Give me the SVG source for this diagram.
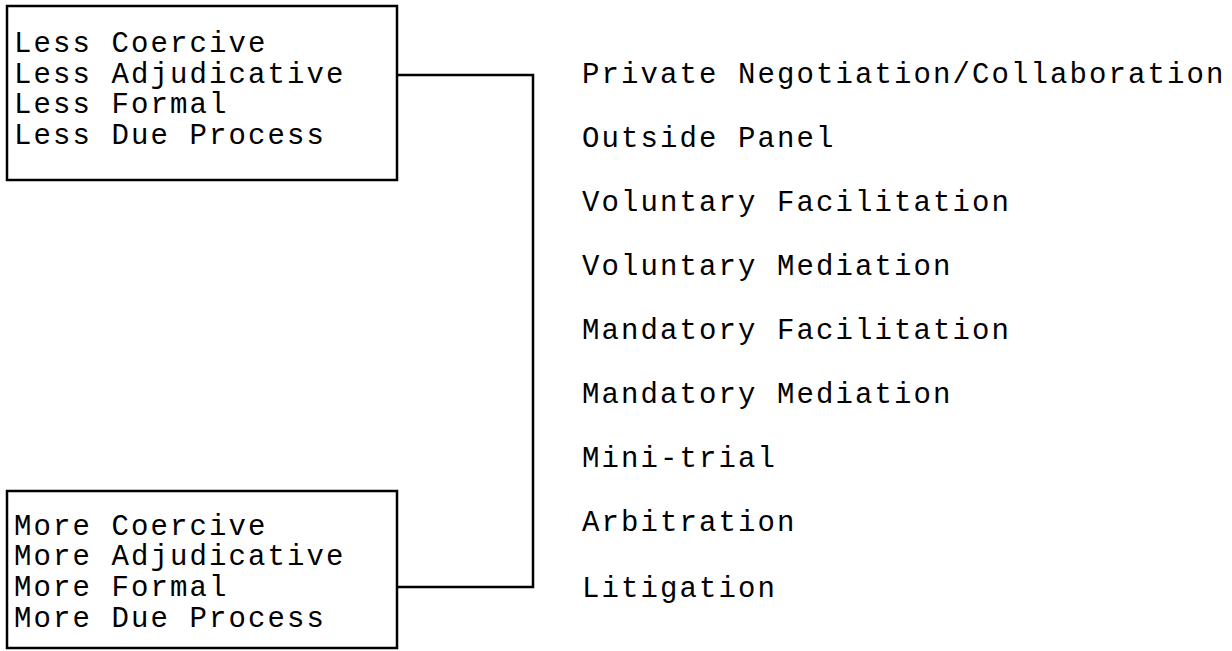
<svg xmlns="http://www.w3.org/2000/svg" width="1232" height="651" viewBox="0 0 1232 651">
<style>
.box{fill:#fff;stroke:#000;stroke-width:2.5}
.t{font-family:"Liberation Mono","Courier New",monospace;font-size:29px;letter-spacing:2.1px;fill:#000}
.c{fill:none;stroke:#000;stroke-width:2.5}
</style>
<rect width="1232" height="651" fill="#fff"/>
<g id="less">
<rect class="box" x="7" y="6" width="390" height="174"/>
<text class="t" x="14" y="52">Less Coercive</text>
<text class="t" x="14" y="83">Less Adjudicative</text>
<text class="t" x="14" y="113">Less Formal</text>
<text class="t" x="14" y="144">Less Due Process</text>
</g>
<g id="more">
<rect class="box" x="7" y="491" width="390" height="157"/>
<text class="t" x="14" y="535">More Coercive</text>
<text class="t" x="14" y="565">More Adjudicative</text>
<text class="t" x="14" y="596">More Formal</text>
<text class="t" x="14" y="627">More Due Process</text>
</g>
<g id="connectors">
<polyline class="c" points="397,75 533,75 533,587 397,587"/>
</g>
<g id="list">
<text class="t" x="582" y="83">Private Negotiation/Collaboration</text>
<text class="t" x="582" y="147">Outside Panel</text>
<text class="t" x="582" y="211">Voluntary Facilitation</text>
<text class="t" x="582" y="275">Voluntary Mediation</text>
<text class="t" x="582" y="339">Mandatory Facilitation</text>
<text class="t" x="582" y="403">Mandatory Mediation</text>
<text class="t" x="582" y="467">Mini-trial</text>
<text class="t" x="582" y="531">Arbitration</text>
<text class="t" x="582" y="597">Litigation</text>
</g>
</svg>
